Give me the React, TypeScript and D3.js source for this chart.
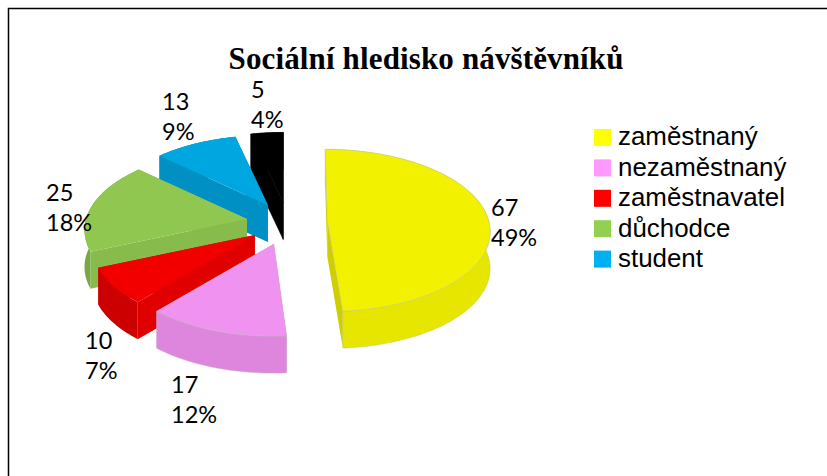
import React from "react";
import * as d3 from "d3";

// ---- data ----
const categories = ["zaměstnaný", "nezaměstnaný", "zaměstnavatel", "důchodce", "student", ""];
const counts = [67, 17, 10, 25, 13, 5];
const percents = ["49%", "12%", "7%", "18%", "9%", "4%"];
const explosion = [0.235, 0.27, 0.25, 0.26, 0.27, 0.27];
const titleText = "Sociální hledisko návštěvníků";

// ---- styles ----
const legendColors = ["#FFFF00", "#FF99FF", "#FF0000", "#92D050", "#00B0F0"];
const topColors = ["#F2F200", "#F092F0", "#F20000", "#8FC750", "#00A6E0", "#000000"];
const outerColors = ["#E6E600", "#DE86DE", "#CC0000", "#78A843", "#0090C4", "#000000"];
const innerColors = ["#CFCF00", "#DE86DE", "#E00000", "#87BC4C", "#0090C4", "#000000"];
const edgeColors = ["#C4C480", "#C0B0C0", "none", "none", "none", "#000000"];
const labelAnchors: [number, number][] = [
  [491, 216], [171, 393], [85, 349], [46, 201], [162, 110], [251, 98],
];
// fine correction of each exploded slice's position and lean
const sliceShift: [number, number][] = [
  [0.5, -3], [-1, 0], [-1, 0], [-1, -0.5], [0, 0], [-1, 0],
];
const sliceLean = [0.03, 0, 0, 0, 0, 0];

// ---- geometry ----
const W = 827, H = 476;
const cx = 289, cy = 223, rx = 161, ry = 79.5, persp = 0.136, depth = 37;

const project = (r: number, t: number): [number, number] => {
  const p = 1 / (1 + persp * r * Math.cos(t));
  return [rx * r * Math.sin(t) * p, -ry * r * Math.cos(t) * p];
};

const line = d3.line<[number, number]>().x((d) => d[0]).y((d) => d[1]);
const arcs = d3.pie<number>().sort(null).startAngle(0).endAngle(2 * Math.PI)(counts);

export default function App() {
  const slices = arcs.map((a, i) => {
    const mid = (a.startAngle + a.endAngle) / 2;
    const off = project(explosion[i], mid);
    const ax = cx + off[0] + sliceShift[i][0], ay = cy + off[1] + sliceShift[i][1];
    const n = Math.max(4, Math.ceil((a.endAngle - a.startAngle) * 40));
    const angles = d3.range(n + 1).map((k) => a.startAngle + ((a.endAngle - a.startAngle) * k) / n);
    const rim = angles.map((t) => {
      const q = project(1, t);
      return [ax + q[0] + sliceLean[i] * q[1], ay + q[1]] as [number, number];
    });
    const down = (q: [number, number]) => [q[0], q[1] + depth] as [number, number];
    const apex: [number, number] = [ax, ay];
    return {
      i,
      top: line([apex, ...rim])! + "Z",
      outer: line([...rim, ...rim.slice().reverse().map(down)])! + "Z",
      startWall: line([apex, rim[0], down(rim[0]), down(apex)])! + "Z",
      endWall: line([apex, rim[n], down(rim[n]), down(apex)])! + "Z",
    };
  });
  const order = slices.slice().reverse(); // black at the back, working forward; yellow is last

  return (
    <svg width={W} height={H} viewBox={`0 0 ${W} ${H}`} style={{ position: "fixed", left: 0, top: 0, display: "block", background: "#fff" }}>
      <path d={`M8.5 ${H}V8.5H${W}`} fill="none" stroke="#000" strokeWidth={1.5} />
      <text x={426} y={69} textAnchor="middle" fontFamily="'Liberation Serif'" fontWeight="bold" fontSize={31} textLength={395} lengthAdjust="spacing">{titleText}</text>

      {order.map((s) => (
        <g key={s.i}>
          <path d={s.startWall} fill={innerColors[s.i]} stroke={s.i === 5 ? "#000" : "none"} strokeWidth={0.5} />
          <path d={s.endWall} fill={innerColors[s.i]} stroke={s.i === 5 ? "#000" : "none"} strokeWidth={0.5} />
          <path d={s.outer} fill={outerColors[s.i]} stroke={edgeColors[s.i]} strokeWidth={0.5} />
          <path d={s.top} fill={topColors[s.i]} stroke={edgeColors[s.i]} strokeWidth={0.5} />
        </g>
      ))}

      {counts.map((c, i) => (
        <g key={i} fontFamily="Lato" fontSize={23.5} fill="#000">
          <text x={labelAnchors[i][0]} y={labelAnchors[i][1]}>{c}</text>
          <text x={labelAnchors[i][0]} y={labelAnchors[i][1] + 30}>{percents[i]}</text>
        </g>
      ))}

      {legendColors.map((col, i) => (
        <g key={i}>
          <rect x={594} y={129 + i * 30.4} width={17} height={17} fill={col} />
          <text x={618} y={145 + i * 30.6} fontFamily="'Liberation Sans'" fontSize={25.9} fill="#000">{categories[i]}</text>
        </g>
      ))}
    </svg>
  );
}
